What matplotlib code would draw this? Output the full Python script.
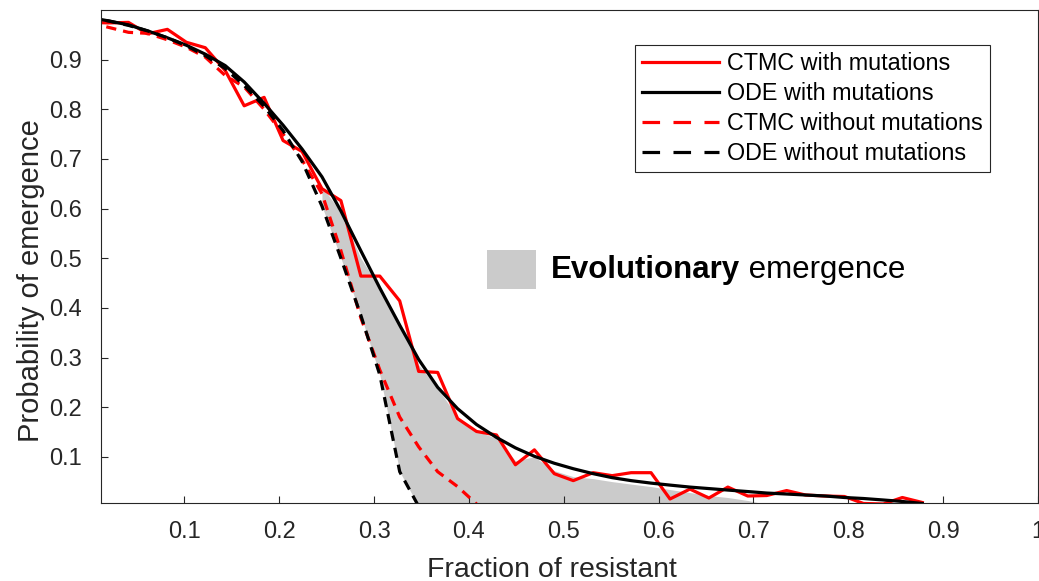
import matplotlib
matplotlib.use("Agg")
import matplotlib.pyplot as plt
from matplotlib.lines import Line2D
from matplotlib.patches import Rectangle

plt.rcParams["font.family"] = ["Liberation Sans", "DejaVu Sans"]

# x grid (fraction of resistant)
x = [0.000, 0.020, 0.041, 0.061, 0.082, 0.102, 0.122, 0.143, 0.163, 0.184,
     0.204, 0.224, 0.245, 0.265, 0.286, 0.306, 0.327, 0.347, 0.367, 0.388,
     0.408, 0.429, 0.449, 0.469, 0.490, 0.510, 0.531, 0.551, 0.571, 0.592,
     0.612, 0.633, 0.653, 0.673, 0.694, 0.714, 0.735, 0.755, 0.776, 0.796,
     0.816, 0.837, 0.857, 0.878]

ctmc_mut = [0.975, 0.974, 0.975, 0.952, 0.961, 0.935, 0.924, 0.878, 0.807, 0.824,
            0.737, 0.715, 0.640, 0.616, 0.464, 0.464, 0.414, 0.272, 0.270, 0.177,
            0.151, 0.144, 0.084, 0.114, 0.066, 0.052, 0.068, 0.062, 0.068, 0.068,
            0.015, 0.035, 0.017, 0.039, 0.021, 0.022, 0.032, 0.023, 0.021, 0.020,
            0.006, 0.005, 0.018, 0.008]

ode_mut = [0.985, 0.978, 0.970, 0.958, 0.944, 0.929, 0.911, 0.888, 0.855, 0.812,
           0.768, 0.720, 0.664, 0.595, 0.515, 0.440, 0.365, 0.296, 0.240, 0.197,
           0.165, 0.139, 0.118, 0.101, 0.087, 0.076, 0.066, 0.058, 0.052, 0.047,
           0.043, 0.039, 0.036, 0.033, 0.030, 0.027, 0.025, 0.023, 0.021, 0.018,
           0.016, 0.013, 0.010, 0.006]

x_nomut = x[:21]
ctmc_nomut = [0.975, 0.965, 0.955, 0.953, 0.940, 0.925, 0.905, 0.868, 0.845, 0.800,
              0.750, 0.698, 0.630, 0.515, 0.380, 0.275, 0.180, 0.120, 0.070, 0.040,
              0.005]
ode_nomut = [0.985, 0.978, 0.969, 0.958, 0.944, 0.928, 0.908, 0.882, 0.848, 0.806,
             0.757, 0.695, 0.605, 0.500, 0.385, 0.265, 0.070, 0.000, 0.000, 0.000,
             0.000]

# shaded "evolutionary emergence" band
x_band = x[12:36]
band_top = [0.645, 0.592, 0.500, 0.440, 0.370, 0.285, 0.238, 0.180, 0.152, 0.137,
            0.092, 0.100, 0.072, 0.060, 0.056, 0.050, 0.045, 0.040, 0.034, 0.028,
            0.022, 0.018, 0.012, 0.004]
band_low = [0.605, 0.500, 0.385, 0.265, 0.070, 0.000, 0.000, 0.000, 0.000, 0.000,
            0.000, 0.000, 0.000, 0.000, 0.000, 0.000, 0.000, 0.000, 0.000, 0.000,
            0.000, 0.000, 0.000, 0.000]

RED = "#ff0000"
GREY = "#cbcbcb"
AXC = "#262626"
DASH = (0, (3.2, 2.2))
LEG_DASH = (0, (5.5, 4.2))

fig = plt.figure(figsize=(10.39, 5.81), dpi=100)
ax = fig.add_axes([0.0972, 0.1343, 0.9018, 0.8485])

ax.fill_between(x_band, band_low, band_top, color=GREY, linewidth=0)
ax.plot(x, ctmc_mut, color=RED, lw=2.3)
ax.plot(x, ode_mut, color="black", lw=2.3)
ax.plot(x_nomut, ctmc_nomut, color=RED, lw=2.3, ls=DASH)
ax.plot(x_nomut, ode_nomut, color="black", lw=2.3, ls=DASH)

ax.set_xlim(0.012, 1.0)
ax.set_ylim(0.007, 1.0)
ax.set_xticks([0.1, 0.2, 0.3, 0.4, 0.5, 0.6, 0.7, 0.8, 0.9, 1.0])
ax.set_xticklabels(["0.1", "0.2", "0.3", "0.4", "0.5", "0.6", "0.7", "0.8", "0.9", "1"])
ax.set_yticks([0.1, 0.2, 0.3, 0.4, 0.5, 0.6, 0.7, 0.8, 0.9])
ax.set_yticklabels(["0.1", "0.2", "0.3", "0.4", "0.5", "0.6", "0.7", "0.8", "0.9"])
ax.tick_params(direction="in", length=5, width=0.8, colors=AXC, labelsize=17,
               labelcolor=AXC)
ax.tick_params(axis="x", pad=13)
ax.tick_params(axis="y", pad=14)
for s in ax.spines.values():
    s.set_color(AXC)
    s.set_linewidth(0.8)

ax.set_xlabel("Fraction of resistant", fontsize=20.5, color=AXC)
ax.xaxis.set_label_coords(0.481, -0.109)
ax.set_ylabel("Probability of emergence", fontsize=21, color=AXC)
ax.yaxis.set_label_coords(-0.060, 0.452)

# legend proxies (longer dashes, like the original legend)
handles = [
    Line2D([], [], color=RED, lw=2.3),
    Line2D([], [], color="black", lw=2.3),
    Line2D([], [], color=RED, lw=2.3, ls=LEG_DASH),
    Line2D([], [], color="black", lw=2.3, ls=LEG_DASH),
]
labels = ["CTMC with mutations", "ODE with mutations",
          "CTMC without mutations", "ODE without mutations"]
leg = ax.legend(handles, labels, loc="upper right", bbox_to_anchor=(0.949, 0.929),
                fontsize=16.8, handlelength=3.3, handletextpad=0.34,
                labelspacing=0.3, borderpad=0.3, borderaxespad=0,
                fancybox=False, framealpha=1)
leg.get_frame().set_edgecolor(AXC)
leg.get_frame().set_linewidth(0.8)

ax.add_patch(Rectangle((0.412, 0.434), 0.052, 0.079, transform=ax.transAxes,
                       facecolor=GREY, edgecolor="none"))
t = ax.text(0.480, 0.473, "Evolutionary", transform=ax.transAxes,
            fontsize=22.5, fontweight="bold", va="center", ha="left", color="black")
ax.annotate(" emergence", xy=(1, 0.5), xycoords=t, fontsize=22.5,
            va="center", ha="left", color="black")

fig.savefig("out.png", dpi=100)
